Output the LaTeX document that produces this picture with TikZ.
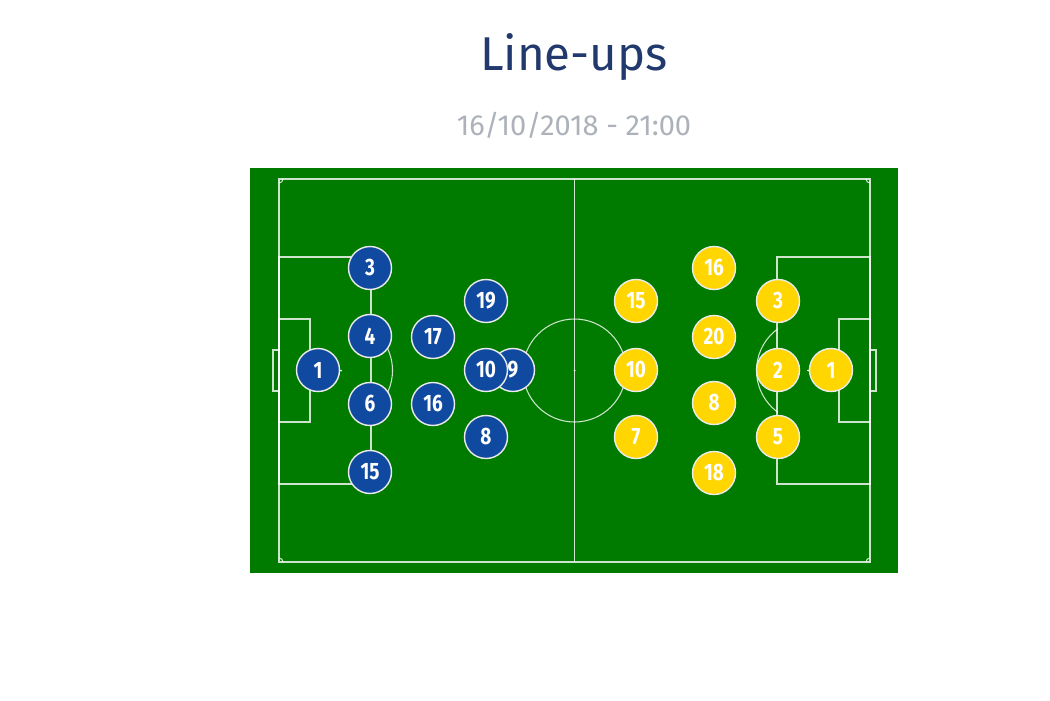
\documentclass[tikz,border=0pt]{standalone}
\usepackage{fontspec}
\setmainfont{Fira Sans}
\newfontfamily\numfont[FakeStretch=0.8]{Fira Sans}
\usepackage{tikz}
\definecolor{titlenavy}{RGB}{33,57,108}
\definecolor{dategray}{RGB}{172,177,186}
\definecolor{pitchgreen}{RGB}{0,123,0}
\definecolor{homeblue}{RGB}{16,74,160}
\definecolor{awayyellow}{RGB}{255,214,0}

\begin{document}
\begin{tikzpicture}[x=0.02cm,y=-0.02cm,
		pitchline/.style={white,opacity=0.8,line width=0.6pt},
		player/.style={circle,draw=white!92!black,line width=0.8pt,minimum size=0.86cm,inner sep=0pt,text=white,font=\numfont\bfseries\fontsize{13.5}{13.5}\selectfont},
		home/.style={player,fill=homeblue},
		away/.style={player,fill=awayyellow}]
			\useasboundingbox (0,0) rectangle (1050,700);
			\node[titlenavy,anchor=base,font=\fontsize{27}{30}\selectfont] (title) at (574,70) {Line-ups};
			\node[dategray,anchor=base,font=\fontsize{16.5}{18}\selectfont] (date) at (574,135) {16/10/2018 - 21:00};
			
			\fill[pitchgreen] (250,168) rectangle (898,573);
			\draw[pitchline] (279,179) rectangle (870,562);
			\draw[pitchline] (574.5,179) -- (574.5,562);
			\draw[pitchline] (574.5,370.5) circle (51.5);
			\fill[white] (574.5,370.5) circle (1);
			\draw[pitchline] (283,179) arc[start angle=0,end angle=90,radius=4];
			\draw[pitchline] (866,179) arc[start angle=180,end angle=90,radius=4];
			\draw[pitchline] (283,562) arc[start angle=0,end angle=-90,radius=4];
			\draw[pitchline] (866,562) arc[start angle=180,end angle=270,radius=4];
			
			\draw[pitchline] (279,257) rectangle (371,484);
			\draw[pitchline] (279,319) rectangle (310,422);
			\draw[pitchline] (279,350) -- (273,350) -- (273,391) -- (279,391);
			\fill[white] (341,370.5) circle (1);
			\draw[pitchline] (341,370.5) ++(-54.4:51.5) arc[start angle=-54.4,end angle=54.4,radius=51.5];
			
			\draw[pitchline] (777,257) rectangle (870,484);
			\draw[pitchline] (839,319) rectangle (870,422);
			\draw[pitchline] (870,350) -- (876,350) -- (876,391) -- (870,391);
			\fill[white] (808,370.5) circle (1);
			\draw[pitchline] (808,370.5) ++(125.6:51.5) arc[start angle=125.6,end angle=234.4,radius=51.5];
			
			\node[home] (h1) at (318,370) {1};
			\node[home] (h3) at (370,268) {3};
			\node[home] (h4) at (370,336) {4};
			\node[home] (h6) at (370,404) {6};
			\node[home] (h15) at (370,472) {15};
			\node[home] (h17) at (433,337) {17};
			\node[home] (h16) at (433,404) {16};
			\node[home] (h19) at (486,301) {19};
			\node[home] (h9) at (513,370) {9};
			\node[home] (h10) at (486,370) {10};
			\node[home] (h8) at (486,437) {8};
			
			\node[away] (a1) at (831,370) {1};
			\node[away] (a3) at (778,301) {3};
			\node[away] (a2) at (778,370) {2};
			\node[away] (a5) at (778,437) {5};
			\node[away] (a16) at (714,268) {16};
			\node[away] (a20) at (714,337) {20};
			\node[away] (a8) at (714,403) {8};
			\node[away] (a18) at (714,473) {18};
			\node[away] (a15) at (636,301) {15};
			\node[away] (a10) at (636,370) {10};
			\node[away] (a7) at (636,437) {7};
		\end{tikzpicture}
\end{document}
